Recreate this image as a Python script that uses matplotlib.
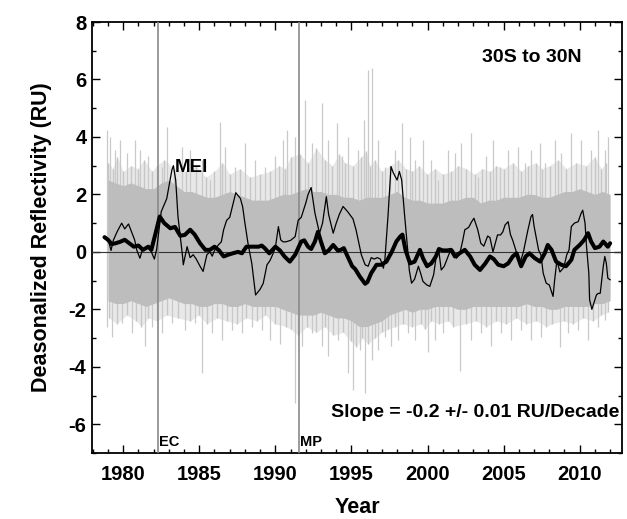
import numpy as np
import matplotlib
matplotlib.use('Agg')
import matplotlib.pyplot as plt
from matplotlib.ticker import MultipleLocator

# ---------------- data ----------------
band_years = np.arange(1979.0, 2012.01, 0.5)
band_hi = [2.5, 2.4, 2.3, 2.4, 2.3, 2.2, 2.2, 2.4, 2.5, 2.3,
           2.1, 2.1, 2.0, 1.9, 1.9, 2.0, 2.1, 2.0, 1.9, 1.8,
           1.8, 1.8, 1.9, 2.0, 2.0, 2.1, 2.2, 2.1, 2.1, 2.0,
           2.0, 1.9, 1.9, 1.8, 1.9, 1.9, 1.9, 2.0, 2.1, 1.9,
           1.8, 1.8, 1.7, 1.7, 1.7, 1.8, 1.8, 1.9, 1.9, 1.7,
           1.8, 1.8, 1.9, 1.9, 1.9, 2.0, 2.0, 1.9, 1.9, 2.0,
           2.1, 2.1, 2.2, 2.1, 2.0, 2.1, 2.0]
band_lo = [-1.7, -1.8, -1.8, -1.7, -1.8, -1.9, -1.8, -1.7, -1.6, -1.7,
           -1.8, -1.8, -1.9, -1.9, -1.8, -1.8, -1.9, -1.9, -1.8, -1.9,
           -1.9, -1.9, -1.9, -2.0, -2.1, -2.2, -2.2, -2.2, -2.1, -2.2,
           -2.3, -2.3, -2.4, -2.6, -2.6, -2.5, -2.4, -2.2, -2.1, -2.0,
           -2.1, -2.0, -2.0, -1.9, -1.9, -1.9, -2.0, -2.0, -1.9, -1.9,
           -1.9, -1.9, -1.9, -1.9, -1.9, -1.8, -1.9, -1.9, -2.0, -2.0,
           -1.9, -1.9, -1.9, -1.9, -1.8, -1.8, -1.7]

# tallest daily excursions
up_spike_years = [1978.92, 1979.14, 1979.46, 1979.79, 1980.23, 1980.78, 1981.11, 1981.65,
                  1982.53, 1982.86, 1983.84, 1984.39, 1985.16, 1985.70, 1986.36, 1986.69,
                  1987.34, 1988.00, 1988.66, 1989.31, 1989.97, 1990.52, 1990.74, 1991.28,
                  1991.94, 1992.38, 1993.04, 1993.47, 1994.02, 1994.35, 1994.79, 1995.44,
                  1995.84, 1996.10, 1996.32, 1996.76, 1997.19, 1997.85, 1998.29, 1998.84,
                  1999.16, 1999.71, 2000.26, 2000.69, 2001.35, 2001.79, 2002.23, 2002.88,
                  2003.32, 2003.87, 2004.31, 2004.74, 2005.29, 2005.95, 2006.39, 2006.82,
                  2007.37, 2007.70, 2008.36, 2008.79, 2009.45, 2010.11, 2010.76, 2011.20,
                  2011.64, 2011.86]
up_spike_vals = [4.24, 4.01, 3.55, 3.90, 3.43, 3.90, 3.55, 3.32,
                 2.97, 4.36, 3.66, 3.55, 3.20, 2.50, 4.53, 3.66,
                 2.97, 3.78, 3.20, 2.97, 3.32, 3.90, 4.24, 4.01,
                 5.29, 3.78, 5.17, 3.90, 4.48, 3.32, 4.01, 3.55,
                 4.59, 6.33, 6.39, 3.90, 2.97, 3.55, 4.48, 4.01,
                 3.20, 3.90, 3.20, 2.50, 3.55, 3.43, 3.78, 4.13,
                 2.62, 3.32, 3.90, 2.97, 3.55, 3.66, 3.08, 3.55,
                 3.78, 3.08, 3.90, 3.43, 4.13, 3.90, 3.55, 4.24,
                 3.55, 4.01]
dn_spike_years = [1978.92, 1979.25, 1979.90, 1980.56, 1981.44, 1981.87, 1982.53, 1983.19,
                  1984.06, 1984.72, 1985.16, 1985.81, 1986.47, 1987.13, 1987.78, 1988.44,
                  1989.09, 1989.64, 1990.30, 1991.28, 1991.72, 1992.38, 1993.04, 1993.47,
                  1994.13, 1994.79, 1995.11, 1995.55, 1995.88, 1996.32, 1996.76, 1997.19,
                  1997.63, 1998.07, 1998.73, 1999.16, 2000.04, 2000.48, 2001.02, 2002.16,
                  2002.88, 2003.54, 2004.20, 2004.85, 2005.51, 2006.17, 2006.82, 2007.48,
                  2008.68, 2009.23, 2009.89, 2010.54, 2011.20, 2011.64]
dn_spike_vals = [-2.60, -2.95, -2.48, -2.83, -3.29, -2.60, -2.83, -2.48,
                 -2.71, -2.48, -4.22, -2.83, -3.06, -2.71, -2.83, -2.60,
                 -2.71, -3.06, -3.20, -5.26, -3.29, -2.83, -3.29, -3.64,
                 -3.06, -4.22, -4.80, -3.41, -4.92, -3.76, -3.41, -2.95,
                 -3.29, -3.06, -2.83, -3.06, -3.50, -3.06, -2.83, -4.16,
                 -3.06, -2.83, -3.29, -2.83, -3.06, -2.71, -3.06, -2.95,
                 -3.30, -2.83, -2.71, -3.06, -2.60, -2.37]

# secondary (shorter) daily excursions
mid_up_years = [1979.03, 1979.30, 1979.62, 1980.00, 1980.50, 1980.95, 1981.38, 1981.90,
                1982.20, 1982.70, 1983.35, 1984.10, 1984.80, 1985.43, 1986.00, 1986.52,
                1987.00, 1987.67, 1988.33, 1988.98, 1989.64, 1990.25, 1990.63, 1991.00,
                1991.60, 1992.15, 1992.70, 1993.25, 1993.75, 1994.18, 1994.57, 1995.10,
                1995.64, 1995.97, 1996.21, 1996.54, 1996.98, 1997.52, 1998.07, 1998.56,
                1999.00, 1999.43, 1999.98, 2000.48, 2001.00, 2001.57, 2002.00, 2002.55,
                2003.10, 2003.60, 2004.09, 2004.52, 2005.00, 2005.62, 2006.17, 2006.60,
                2007.10, 2007.53, 2008.03, 2008.57, 2009.12, 2009.78, 2010.43, 2010.98,
                2011.42, 2011.75]
mid_up_vals = [3.1, 2.9, 3.3, 2.8, 3.0, 2.9, 3.2, 2.8,
               3.0, 3.2, 2.9, 2.8, 3.0, 2.6, 2.8, 3.1,
               2.7, 2.9, 2.6, 2.7, 2.8, 3.0, 2.9, 3.3,
               3.4, 3.1, 3.6, 3.2, 3.0, 3.4, 3.1, 3.0,
               3.3, 3.5, 3.0, 3.2, 2.8, 3.0, 3.2, 2.9,
               2.8, 3.0, 2.7, 2.9, 2.7, 2.8, 3.0, 2.9,
               2.7, 2.9, 2.8, 3.0, 2.9, 3.1, 2.8, 3.0,
               3.1, 2.9, 3.0, 3.2, 2.9, 3.1, 3.0, 3.3,
               2.9, 3.1]
mid_dn_years = [1979.05, 1979.58, 1980.22, 1980.85, 1981.20, 1981.65, 1982.20, 1982.85,
                1983.60, 1984.40, 1984.95, 1985.50, 1986.15, 1986.80, 1987.45, 1988.10,
                1988.78, 1989.35, 1989.95, 1990.70, 1991.00, 1991.50, 1992.05, 1992.70,
                1993.25, 1993.80, 1994.45, 1994.95, 1995.33, 1995.70, 1996.10, 1996.54,
                1996.98, 1997.40, 1997.85, 1998.40, 1998.95, 1999.60, 1999.82, 2000.26,
                2000.75, 2001.35, 2001.70, 2002.50, 2003.20, 2003.87, 2004.52, 2005.18,
                2005.84, 2006.50, 2007.15, 2007.80, 2008.20, 2008.95, 2009.55, 2010.22,
                2010.87, 2011.42, 2011.85]
mid_dn_vals = [-2.3, -2.5, -2.2, -2.4, -2.6, -2.3, -2.4, -2.2,
               -2.3, -2.4, -2.2, -2.5, -2.3, -2.4, -2.5, -2.3,
               -2.4, -2.2, -2.5, -2.6, -2.7, -2.9, -2.6, -2.8,
               -2.6, -2.9, -2.8, -3.1, -3.3, -3.0, -3.2, -3.0,
               -2.8, -2.7, -2.6, -2.5, -2.6, -2.5, -2.7, -2.4,
               -2.5, -2.4, -2.6, -2.5, -2.4, -2.6, -2.4, -2.5,
               -2.3, -2.5, -2.4, -2.6, -2.5, -2.4, -2.5, -2.3,
               -2.4, -2.2, -2.1]

mei_years = [1978.8, 1979.0, 1979.2, 1979.35, 1979.6, 1979.9, 1980.1, 1980.35, 1980.55, 1980.75,
             1980.9, 1981.1, 1981.25, 1981.5, 1981.7, 1981.85, 1982.05, 1982.2, 1982.5, 1982.86,
             1983.2, 1983.3, 1983.45, 1983.6, 1983.9, 1983.95, 1984.2, 1984.4, 1984.6, 1984.8,
             1985.05, 1985.25, 1985.5, 1985.7, 1985.85, 1986.0, 1986.25, 1986.45, 1986.6, 1986.8,
             1987.0, 1987.2, 1987.4, 1987.7, 1987.85, 1988.0, 1988.2, 1988.45, 1988.7, 1989.0,
             1989.2, 1989.45, 1989.65, 1989.85, 1990.0, 1990.2, 1990.35, 1990.5, 1990.7, 1991.0,
             1991.3, 1991.5, 1991.7, 1992.0, 1992.15, 1992.35, 1992.6, 1992.9, 1993.1, 1993.35,
             1993.5, 1993.8, 1994.0, 1994.2, 1994.45, 1994.75, 1994.9, 1995.1, 1995.3, 1995.45,
             1995.65, 1995.9, 1996.1, 1996.3, 1996.5, 1996.7, 1996.9, 1997.1, 1997.2, 1997.4,
             1997.6, 1997.75, 1998.0, 1998.15, 1998.3, 1998.5, 1998.7, 1998.8, 1998.95, 1999.15,
             1999.4, 1999.55, 1999.7, 1999.95, 2000.15, 2000.4, 2000.6, 2000.75, 2000.9, 2001.1,
             2001.35, 2001.55, 2001.7, 2001.9, 2002.1, 2002.3, 2002.45, 2002.7, 2002.9, 2003.05,
             2003.3, 2003.5, 2003.7, 2003.95, 2004.1, 2004.3, 2004.45, 2004.6, 2004.8, 2004.95,
             2005.1, 2005.3, 2005.45, 2005.6, 2005.8, 2006.05, 2006.3, 2006.6, 2006.8, 2006.9,
             2007.0, 2007.3, 2007.45, 2007.5, 2007.6, 2007.8, 2008.0, 2008.25, 2008.35, 2008.5,
             2008.7, 2008.95, 2009.15, 2009.3, 2009.45, 2009.65, 2009.9, 2010.1, 2010.2, 2010.35,
             2010.45, 2010.6, 2010.65, 2010.8, 2011.1, 2011.2, 2011.35, 2011.55, 2011.65, 2011.75,
             2011.85, 2012.0]
mei_vals = [0.55, 0.45, 0.05, 0.4, 0.7, 1.0, 0.8, 0.97, 0.7, 0.42,
            0.05, -0.22, 0.05, 0.1, 0.2, 0.0, -0.25, 0.1, 1.4, 1.85,
            2.85, 3.0, 2.5, 1.23, -0.15, -0.45, 0.18, -0.2, -0.1, -0.25,
            -0.5, -0.68, -0.1, 0.0, -0.15, 0.05, 0.24, 0.35, 0.77, 1.1,
            1.2, 1.63, 2.06, 1.86, 1.57, 1.0, 0.3, -0.4, -1.5, -1.3,
            -1.1, -0.45, -0.3, -0.06, 0.15, 0.88, 0.42, 0.35, 0.35, 0.4,
            0.53, 1.1, 1.2, 1.7, 2.0, 2.24, 1.35, 0.65, 1.0, 1.92,
            1.3, 0.65, 1.0, 1.3, 1.58, 1.4, 1.29, 1.15, 0.77, 0.4,
            -0.1, -0.45, -0.5, -0.2, -0.25, -0.2, -0.25, -0.57, -0.25, 1.23,
            2.97, 2.75, 2.5, 2.8, 2.5, 1.23, 0.05, -0.63, -1.09, -0.95,
            -0.5, -0.75, -1.03, -1.15, -1.2, -0.8, -0.05, 0.0, -0.63, -0.5,
            -0.16, 0.1, 0.05, -0.22, -0.1, 0.36, 0.77, 0.85, 1.05, 1.17,
            0.77, 0.3, 0.2, 0.55, 0.5, 0.0, 0.3, 0.59, 0.59, 0.7,
            0.94, 1.05, 0.6, 0.4, 0.06, -0.45, 0.0, 0.77, 1.23, 1.3,
            0.9, 0.06, -0.1, -0.3, -0.74, -1.09, -1.15, -1.55, -1.0, -0.3,
            -0.7, -0.55, -0.1, 0.07, 0.88, 1.0, 1.05, 1.35, 1.45, 1.0,
            0.18, -0.74, -1.67, -2.0, -1.5, -1.45, -1.44, -0.5, -0.16, -0.4,
            -0.92, -0.97]

smooth_years = [1978.77, 1979.0, 1979.25, 1979.5, 1979.8, 1980.1, 1980.4, 1980.7, 1981.0, 1981.3,
                1981.65, 1981.85, 1982.1, 1982.4, 1982.7, 1983.1, 1983.4, 1983.75, 1984.05, 1984.4,
                1984.7, 1985.05, 1985.4, 1985.7, 1986.0, 1986.3, 1986.6, 1986.9, 1987.2, 1987.55,
                1987.8, 1988.1, 1988.4, 1988.9, 1989.1, 1989.3, 1989.6, 1990.0, 1990.3, 1990.6,
                1990.95, 1991.3, 1991.7, 1991.9, 1992.15, 1992.35, 1992.6, 1992.8, 1993.0, 1993.25,
                1993.5, 1993.8, 1994.1, 1994.3, 1994.5, 1994.8, 1995.05, 1995.25, 1995.55, 1995.9,
                1996.05, 1996.3, 1996.65, 1996.95, 1997.3, 1997.65, 1997.95, 1998.2, 1998.35, 1998.55,
                1998.85, 1999.15, 1999.5, 1999.7, 1999.97, 2000.25, 2000.55, 2000.75, 2001.0, 2001.3,
                2001.55, 2001.8, 2002.1, 2002.45, 2002.8, 2003.1, 2003.45, 2003.8, 2004.1, 2004.35,
                2004.65, 2005.0, 2005.3, 2005.6, 2005.85, 2006.15, 2006.45, 2006.7, 2007.05, 2007.4,
                2007.7, 2007.9, 2008.15, 2008.45, 2008.8, 2009.1, 2009.45, 2009.65, 2010.0, 2010.3,
                2010.55, 2010.75, 2011.0, 2011.3, 2011.55, 2011.85, 2012.0]
smooth_vals = [0.51, 0.42, 0.27, 0.3, 0.35, 0.42, 0.3, 0.18, 0.22, 0.07,
               0.18, 0.07, 0.59, 1.23, 1.0, 0.82, 0.87, 0.56, 0.59, 0.77,
               0.6, 0.3, 0.07, 0.07, 0.18, 0.05, -0.16, -0.1, -0.05, 0.0,
               -0.05, 0.18, 0.18, 0.18, 0.22, 0.13, -0.05, 0.18, 0.05, -0.16,
               -0.34, -0.1, 0.36, 0.4, 0.18, 0.1, 0.36, 0.7, 0.35, -0.05,
               0.05, 0.24, 0.05, 0.07, 0.13, -0.22, -0.5, -0.6, -0.86, -1.11,
               -1.05, -0.74, -0.45, -0.45, -0.34, 0.0, 0.36, 0.53, 0.6, 0.07,
               -0.4, -0.34, 0.07, -0.22, -0.5, -0.4, -0.16, 0.1, 0.05, 0.05,
               0.07, -0.16, -0.05, 0.07, -0.16, -0.45, -0.63, -0.4, -0.16, -0.25,
               -0.45, -0.5, -0.4, -0.16, -0.05, -0.5, -0.16, -0.05, -0.22, -0.34,
               -0.05, 0.24, 0.07, -0.34, -0.45, -0.5, -0.28, 0.07, 0.24, 0.42,
               0.65, 0.36, 0.13, 0.18, 0.36, 0.18, 0.3]

event_years = [1982.3, 1991.55]
event_labels = ['EC', 'MP']

# ---------------- figure ----------------
plt.rcParams['font.family'] = ['Liberation Sans', 'DejaVu Sans']
plt.rcParams['font.weight'] = 'bold'
plt.rcParams['axes.unicode_minus'] = False

fig = plt.figure(figsize=(6.27, 5.19), dpi=100)
ax = fig.add_axes([92 / 627, 66 / 519, 530 / 627, 431 / 519])

# light halo of the daily noise, then spikes, then the dense core
ax.fill_between(mid_up_years, 0, mid_up_vals, color='#e8e8e8', lw=0, zorder=0.5)
ax.fill_between(mid_dn_years, 0, mid_dn_vals, color='#e8e8e8', lw=0, zorder=0.5)
ax.vlines(up_spike_years, 0, up_spike_vals, color='#c9c9c9', lw=0.9, zorder=1)
ax.vlines(dn_spike_years, 0, dn_spike_vals, color='#c9c9c9', lw=0.9, zorder=1)
ax.vlines(mid_up_years, 0, mid_up_vals, color='#c6c6c6', lw=1.0, zorder=1)
ax.vlines(mid_dn_years, 0, mid_dn_vals, color='#c6c6c6', lw=1.0, zorder=1)
ax.fill_between(band_years, band_lo, band_hi, color='#bdbdbd', lw=0, zorder=2)

ax.axhline(0, color='#333333', lw=0.8, zorder=3)
for ey, lab in zip(event_years, event_labels):
    ax.axvline(ey, color='#8a8a8a', lw=1.2, zorder=3)
    ax.text(ey + 0.08, -6.6, lab, fontsize=10.5, fontweight='bold', va='center', ha='left', zorder=6)

ax.plot(mei_years, mei_vals, color='black', lw=0.9, zorder=4)
ax.plot(smooth_years, smooth_vals, color='black', lw=2.9, zorder=5,
        solid_joinstyle='round', solid_capstyle='round')

ax.text(1983.4, 2.95, 'MEI', fontsize=13.5, fontweight='bold', va='center', ha='left', zorder=6)
ax.text(2003.6, 6.75, '30S to 30N', fontsize=14, fontweight='bold', va='center', ha='left')
ax.text(2012.6, -5.6, 'Slope = -0.2 +/- 0.01 RU/Decade', fontsize=14, fontweight='bold',
        va='center', ha='right', zorder=6)

ax.set_xlim(1977.95, 2012.78)
ax.set_ylim(-7, 8)
ax.xaxis.set_major_locator(MultipleLocator(5))
ax.xaxis.set_minor_locator(MultipleLocator(1))
ax.yaxis.set_major_locator(MultipleLocator(2))
ax.yaxis.set_minor_locator(MultipleLocator(1))
ax.tick_params(which='both', direction='in', top=True, right=True, width=1.0)
ax.tick_params(which='major', length=5.5, labelsize=14.5)
ax.tick_params(which='minor', length=3)
ax.tick_params(axis='x', which='major', pad=9)
ax.tick_params(axis='y', which='major', pad=4)
for lab in ax.get_xticklabels() + ax.get_yticklabels():
    lab.set_fontweight('bold')
for sp in ax.spines.values():
    sp.set_linewidth(1.3)

ax.set_xlabel('Year', fontsize=15.5, fontweight='bold', labelpad=9)
ax.set_ylabel('Deasonalized Reflectivity (RU)', fontsize=15.5, fontweight='bold', labelpad=12)

fig.savefig('out.png', dpi=100)
